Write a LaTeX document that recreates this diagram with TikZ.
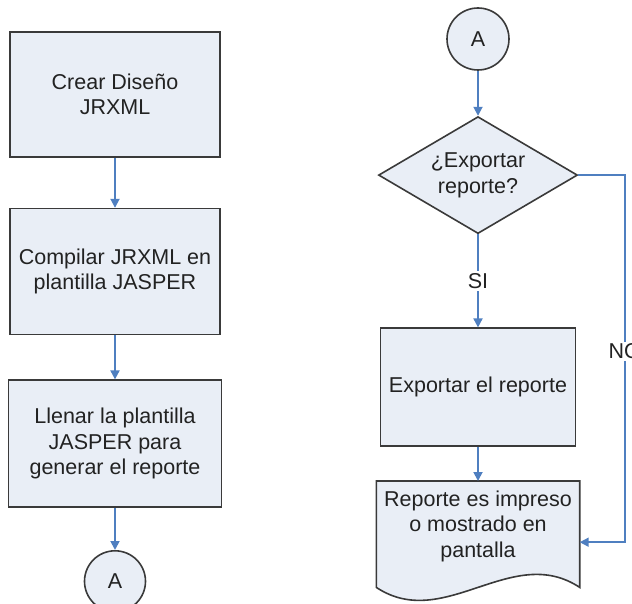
\documentclass[tikz,border=0pt]{standalone}
\usepackage{fontspec}
\setmainfont{Liberation Sans}
\usepackage{tikz}
\usetikzlibrary{positioning,arrows.meta,shapes.geometric,backgrounds}
\usepackage{xcolor}
\definecolor{cajafill}{HTML}{E9EEF6}
\definecolor{borde}{HTML}{3A3A3A}
\definecolor{flecha}{HTML}{4F7FC0}
\definecolor{texto}{HTML}{222222}

\begin{document}
\begin{tikzpicture}[x=1pt, y=-1pt, >={Triangle[length=9pt,width=9pt]}, font=\fontsize{21.5}{25.5}\selectfont, text=texto]
\tikzstyle{block} = [draw=borde, fill=cajafill, line width=1.6pt, align=center, minimum width=210pt, inner sep=2pt]
\tikzstyle{conector} = [circle, draw=borde, fill=cajafill, line width=1.6pt, minimum size=61pt, inner sep=0pt]
\tikzstyle{decision} = [diamond, draw=borde, fill=cajafill, line width=1.6pt, align=center, aspect=1.7, minimum width=199pt, minimum height=117pt, inner sep=0pt]
\tikzstyle{link} = [->, draw=flecha, line width=1.8pt]
\tikzstyle{etiqueta} = [fill=white, inner sep=2pt]

\useasboundingbox (0,0) rectangle (632,604);

% columna izquierda
\node[block, minimum height=125pt] (crear) at (115,94.5) {Crear Diseño\\JRXML};
\node[block, minimum height=126pt, below=50pt of crear] (compilar) {Compilar JRXML en\\plantilla JASPER};
\node[block, minimum width=213pt, minimum height=127pt, below=44pt of compilar] (llenar) {Llenar la plantilla\\JASPER para\\generar el reporte};
\node[conector, below=42pt of llenar] (conA) {A};

\draw[link] (crear) -- (compilar);
\draw[link] (compilar) -- (llenar);
\draw[link] (llenar) -- (conA);

% columna derecha
\node[conector, minimum size=62pt] (conB) at (478,39) {A};
\node[decision, below=45pt of conB] (pregunta) {¿Exportar\\reporte?};
\node[block, minimum width=195pt, minimum height=118pt, below=93pt of pregunta] (exportar) {Exportar el reporte};
\node[align=center, minimum width=203pt, minimum height=90pt, inner sep=0pt, below=34pt of exportar] (reporte) {Reporte es impreso\\o mostrado en\\pantalla};

\coordinate (repSW) at ([yshift=-16pt]reporte.south west);
\coordinate (repSE) at ([yshift=-16pt]reporte.south east);
\coordinate (repE) at ([yshift=-16pt]reporte.east);
\begin{pgfonlayer}{background}
\draw[draw=borde, fill=cajafill, line width=1.6pt] (repSW) -- (reporte.north west) -- (reporte.north east) -- (repSE)
  .. controls ([xshift=-68pt,yshift=45pt]repSE) and ([xshift=68pt,yshift=-45pt]repSW) .. (repSW) -- cycle;
\end{pgfonlayer}

\draw[link] (conB) -- (pregunta);
\draw[link] (pregunta) -- node[etiqueta] {SI} (exportar);
\draw[link] (exportar) -- (reporte);
\draw[link] (pregunta.east) -| node[etiqueta, pos=0.74] {NO} ([xshift=45pt]repE) -- (repE);
\end{tikzpicture}
\end{document}
